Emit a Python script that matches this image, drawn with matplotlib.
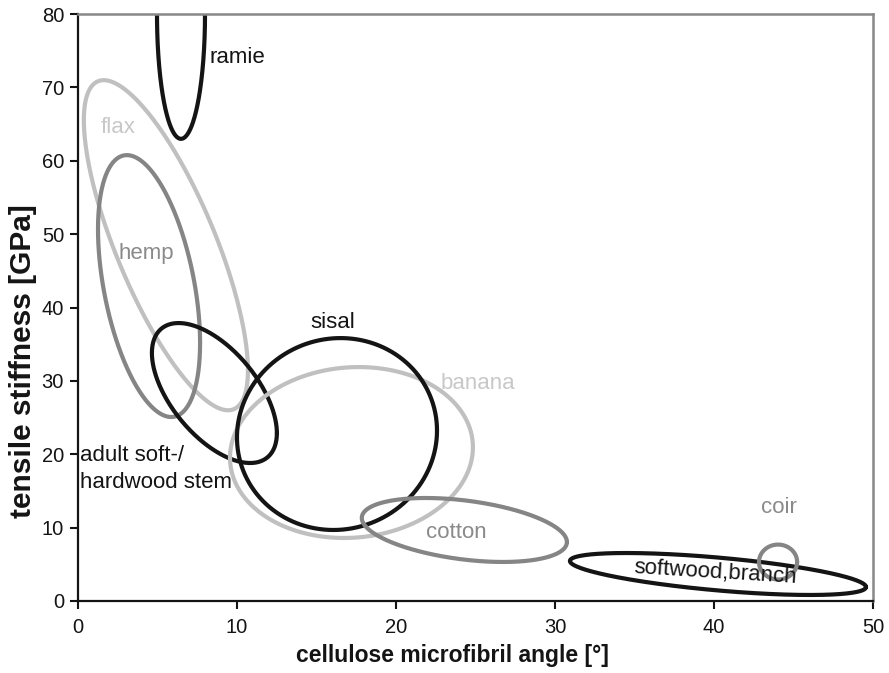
import numpy as np
import matplotlib
matplotlib.use("Agg")
import matplotlib.pyplot as plt

plt.rcParams['font.family'] = ['Liberation Sans', 'DejaVu Sans']

# Ellipse regions: x = cx + rx*cos(t), y = cy + ry*cos(t + phase)
names   = ["flax", "hemp", "ramie", "stem", "banana", "sisal", "cotton", "softwood", "coir"]
cx      = [5.53, 4.47, 6.48, 8.58, 17.2, 16.29, 24.3, 40.25, 44.03]
cy      = [48.5, 42.93, 80.0, 28.35, 20.24, 22.76, 9.68, 3.68, 5.31]
rx      = [5.16, 3.21, 1.51, 3.93, 7.64, 6.29, 6.45, 9.31, 1.2]
ry      = [22.5, 17.85, 17.0, 9.54, 11.65, 13.08, 4.36, 2.86, 2.38]
phase   = [2.43, 2.02, 1.5708, 2.18, 1.51, 1.535, 1.956, 2.24, 1.5708]
colors  = ["#c0c0c0", "#858585", "#141414", "#141414", "#c0c0c0", "#141414", "#858585", "#141414", "#858585"]

# Labels
label_text = ["ramie", "flax", "hemp", "sisal", "banana", "adult soft-/\nhardwood stem", "cotton", "coir", "softwood,branch"]
label_x    = [8.3, 1.45, 2.58, 14.6, 22.83, 0.13, 21.9, 44.1, 40.1]
label_y    = [74.1, 64.6, 47.4, 37.9, 29.6, 18.0, 9.4, 12.8, 3.95]
label_col  = ["#141414", "#c8c8c8", "#8a8a8a", "#141414", "#c8c8c8", "#141414", "#8a8a8a", "#8a8a8a", "#141414"]
label_ha   = ["left", "left", "left", "left", "left", "left", "left", "center", "center"]
label_rot  = [0, 0, 0, 0, 0, 0, 0, 0, -3.5]

xticks = [0, 10, 20, 30, 40, 50]
yticks = [0, 10, 20, 30, 40, 50, 60, 70, 80]

fig = plt.figure(figsize=(8.89, 6.73), dpi=100)
ax = fig.add_axes([0.0877, 0.107, 0.8943, 0.872])

t = np.linspace(0, 2 * np.pi, 400)
for i in range(len(names)):
    xs = cx[i] + rx[i] * np.cos(t)
    ys = cy[i] + ry[i] * np.cos(t + phase[i])
    ax.plot(xs, ys, color=colors[i], lw=3.0, solid_capstyle='round', zorder=2 + i * 0.1)

for s, x, y, c, ha, r in zip(label_text, label_x, label_y, label_col, label_ha, label_rot):
    ax.text(x, y, s, color=c, fontsize=16, ha=ha, va='center', rotation=r,
            linespacing=1.4, zorder=5)

ax.set_xlim(0, 50)
ax.set_ylim(0, 80)
ax.set_xticks(xticks)
ax.set_yticks(yticks)
ax.tick_params(axis='both', direction='out', length=6, width=1.5, labelsize=14.5,
               colors='#141414', top=False, right=False)
ax.tick_params(axis='x', pad=6)
ax.tick_params(axis='y', pad=4)
for side in ['left', 'bottom']:
    ax.spines[side].set_color('#141414')
    ax.spines[side].set_linewidth(1.6)
for side in ['top', 'right']:
    ax.spines[side].set_color('#888888')
    ax.spines[side].set_linewidth(1.8)

fig.text(0.5084, 0.0253, "cellulose microfibril angle [°]", fontsize=16.5,
         fontweight='bold', ha='center', va='center', color='#141414')
fig.text(0.0259, 0.4636, "tensile stiffness [GPa]", fontsize=21.5,
         fontweight='bold', ha='center', va='center', rotation=90, color='#141414')

fig.savefig("out.png", dpi=100)
